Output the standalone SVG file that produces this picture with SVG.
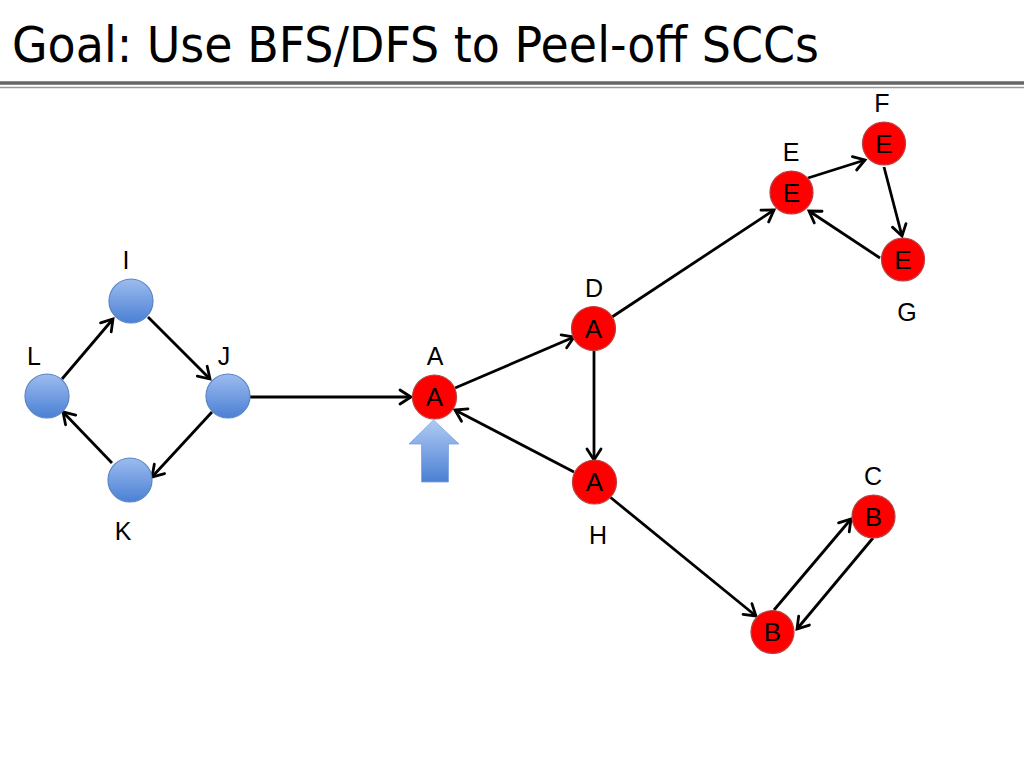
<svg xmlns="http://www.w3.org/2000/svg" width="1024" height="768" viewBox="0 0 1024 768">
<defs>
<linearGradient id="blueG" x1="0" y1="0" x2="0" y2="1">
<stop offset="0" stop-color="#9dbcef"/>
<stop offset="1" stop-color="#4a80d4"/>
</linearGradient>
<linearGradient id="arrG" x1="0" y1="0" x2="0" y2="1">
<stop offset="0" stop-color="#b0cbf2"/>
<stop offset="1" stop-color="#4a80d4"/>
</linearGradient>
<marker id="ah" markerUnits="userSpaceOnUse" markerWidth="22" markerHeight="22" viewBox="-13 -11 15 22" refX="0" refY="0" orient="auto">
<path d="M-11,-7 L0,0 L-11,7" fill="none" stroke="#000" stroke-width="2.8" stroke-linecap="round" stroke-linejoin="miter"/>
</marker>
</defs>
<style>
.title{font-family:"DejaVu Sans","Liberation Sans",sans-serif;font-size:50px;fill:#000}
.lbl{font-family:"Liberation Sans","Open Sans",sans-serif;font-size:25px;fill:#000;text-anchor:middle}
.in{font-family:"Liberation Sans","Open Sans",sans-serif;font-size:26px;fill:#000;text-anchor:middle}
.red{fill:#ff0000;stroke:#b84040;stroke-width:1.2}
.blue{fill:url(#blueG);stroke:#5a84c4;stroke-width:1.2}
.edge{stroke:#000;stroke-width:2.8;fill:none;marker-end:url(#ah)}
</style>
<rect width="1024" height="768" fill="#fff"/>
<text class="title" x="12" y="62" textLength="807" lengthAdjust="spacingAndGlyphs">Goal: Use BFS/DFS to Peel-off SCCs</text>
<line x1="0" y1="83" x2="1024" y2="83" stroke="#666" stroke-width="3.5"/>
<line x1="0" y1="87.5" x2="1024" y2="87.5" stroke="#999" stroke-width="1.5"/>

<g id="connectors">
<line class="edge" x1="62" y1="379" x2="113" y2="319"/>
<line class="edge" x1="148" y1="317" x2="210" y2="379"/>
<line class="edge" x1="212" y1="412" x2="152" y2="477"/>
<line class="edge" x1="112" y1="463" x2="63" y2="412"/>
<line class="edge" x1="250" y1="397" x2="411" y2="397"/>
<line class="edge" x1="455" y1="388" x2="574" y2="337"/>
<line class="edge" x1="594" y1="351" x2="594" y2="460"/>
<line class="edge" x1="574" y1="472" x2="455" y2="410"/>
<line class="edge" x1="612" y1="317" x2="774" y2="210"/>
<line class="edge" x1="808" y1="178" x2="865" y2="160"/>
<line class="edge" x1="884" y1="167" x2="902" y2="236"/>
<line class="edge" x1="880" y1="258" x2="809" y2="211"/>
<line class="edge" x1="610" y1="497" x2="756" y2="616"/>
<line class="edge" x1="774" y1="610" x2="851" y2="519"/>
<line class="edge" x1="873" y1="538" x2="797" y2="629"/>
</g>

<g id="node-I"><circle class="blue" cx="131" cy="301" r="22"/><text class="lbl" x="126" y="269">I</text></g>
<g id="node-L"><circle class="blue" cx="47" cy="396" r="22"/><text class="lbl" x="34" y="365">L</text></g>
<g id="node-J"><circle class="blue" cx="228" cy="396" r="22"/><text class="lbl" x="224" y="365">J</text></g>
<g id="node-K"><circle class="blue" cx="130" cy="480" r="22"/><text class="lbl" x="123" y="540">K</text></g>

<g id="node-A"><circle class="red" cx="434.5" cy="397" r="22"/><text class="in" x="434.5" y="406">A</text><text class="lbl" x="435" y="365">A</text></g>
<g id="node-D"><circle class="red" cx="593.5" cy="328.5" r="22"/><text class="in" x="593.5" y="338">A</text><text class="lbl" x="594" y="297">D</text></g>
<g id="node-H"><circle class="red" cx="594.5" cy="482" r="22"/><text class="in" x="594.5" y="491">A</text><text class="lbl" x="598" y="544">H</text></g>
<g id="node-E"><circle class="red" cx="791.5" cy="192.5" r="21.5"/><text class="in" x="791.5" y="202">E</text><text class="lbl" x="791" y="161">E</text></g>
<g id="node-F"><circle class="red" cx="884" cy="143.5" r="21.5"/><text class="in" x="884" y="153">E</text><text class="lbl" x="882" y="112">F</text></g>
<g id="node-G"><circle class="red" cx="903" cy="259.5" r="21.5"/><text class="in" x="903" y="269">E</text><text class="lbl" x="907" y="321">G</text></g>
<g id="node-C"><circle class="red" cx="873.5" cy="516.5" r="21.5"/><text class="in" x="873.5" y="526">B</text><text class="lbl" x="873" y="485">C</text></g>
<g id="node-B"><circle class="red" cx="772.5" cy="632" r="21.5"/><text class="in" x="772.5" y="641">B</text></g>

<g id="pointer"><path d="M433.5,420 L459,444 L448.5,444 L448.5,482 L421.5,482 L421.5,444 L409,444 Z" fill="url(#arrG)" stroke="#7da3df" stroke-width="0.8"/></g>
</svg>
